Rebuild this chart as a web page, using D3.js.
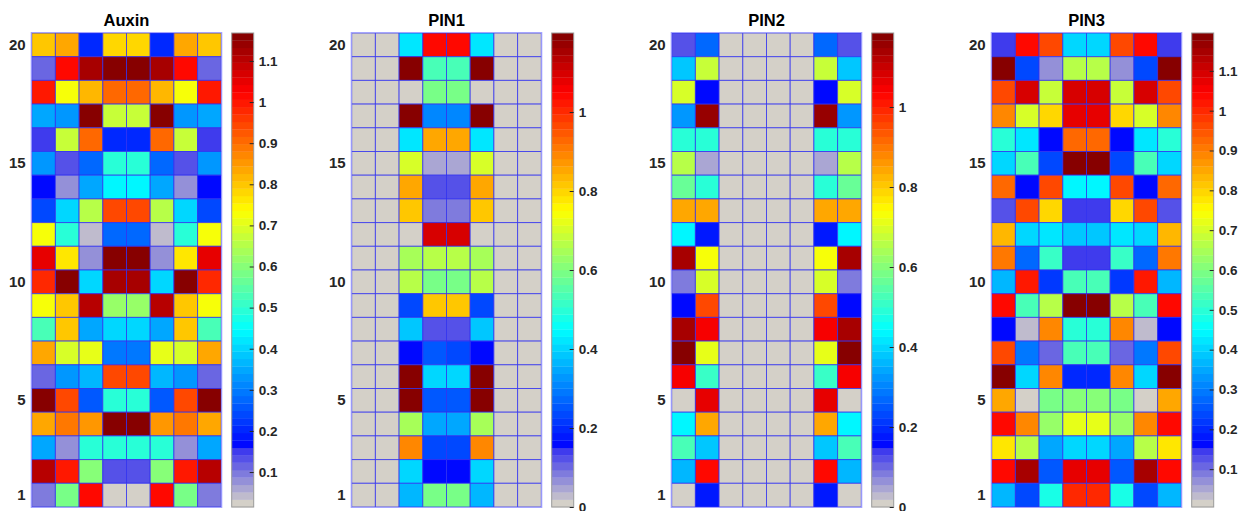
<!DOCTYPE html>
<html>
<head>
<meta charset="utf-8">
<script src="https://cdn.jsdelivr.net/npm/d3@7"></script>
<style>
body { margin: 0; background: #fff; }
text { font-family: Arial, "Liberation Sans", sans-serif; font-weight: bold; }
</style>
</head>
<body>
<div id="chart"></div>
<script>
// panel titles and row tick labels
var titles = ["Auxin", "PIN1", "PIN2", "PIN3"];
var rowTicks = [1, 5, 10, 15, 20];
var columns = [1, 2, 3, 4, 5, 6, 7, 8];
var rows = d3.range(1, 21);

// each matrix is listed from row 20 (top) down to row 1 (bottom)
var auxin = [
    [0.80, 0.83, 0.21, 0.78, 0.78, 0.21, 0.83, 0.80],
    [0.11, 1.02, 1.12, 1.168, 1.168, 1.12, 1.02, 0.11],
    [1.00, 0.735, 0.81, 0.90, 0.90, 0.81, 0.735, 1.00],
    [0.35, 0.325, 1.16, 0.67, 0.67, 1.16, 0.325, 0.35],
    [0.15, 0.68, 0.90, 0.21, 0.21, 0.90, 0.68, 0.15],
    [0.325, 0.13, 0.28, 0.49, 0.49, 0.28, 0.13, 0.325],
    [0.165, 0.07, 0.34, 0.43, 0.43, 0.34, 0.07, 0.165],
    [0.245, 0.40, 0.65, 0.94, 0.94, 0.65, 0.40, 0.245],
    [0.72, 0.50, 0.05, 0.28, 0.28, 0.05, 0.50, 0.72],
    [1.05, 0.765, 0.07, 1.168, 1.168, 0.07, 0.765, 1.05],
    [0.98, 1.155, 0.41, 1.12, 1.12, 0.41, 1.155, 0.98],
    [0.735, 0.80, 1.11, 0.615, 0.615, 1.11, 0.80, 0.735],
    [0.535, 0.805, 0.35, 0.395, 0.395, 0.35, 0.805, 0.535],
    [0.83, 0.695, 0.71, 0.29, 0.29, 0.71, 0.695, 0.83],
    [0.11, 0.325, 0.36, 0.94, 0.94, 0.36, 0.325, 0.11],
    [1.155, 0.95, 0.26, 0.49, 0.49, 0.26, 0.95, 1.155],
    [0.83, 0.88, 0.855, 1.155, 1.155, 0.855, 0.88, 0.83],
    [0.35, 0.07, 0.49, 0.49, 0.49, 0.49, 0.07, 0.35],
    [1.11, 1.00, 0.60, 0.13, 0.13, 0.60, 1.00, 1.11],
    [0.09, 0.59, 1.02, 0.015, 0.015, 1.02, 0.59, 0.09]
];

var pin1 = [
    [0, 0, 0.43, 1.04, 1.04, 0.43, 0, 0],
    [0, 0, 1.19, 0.53, 0.53, 1.19, 0, 0],
    [0, 0, 0, 0.59, 0.59, 0, 0, 0],
    [0, 0, 1.19, 0.30, 0.30, 1.19, 0, 0],
    [0, 0, 0.43, 0.85, 0.85, 0.43, 0, 0],
    [0, 0, 0.70, 0.04, 0.04, 0.70, 0, 0],
    [0, 0, 0.85, 0.12, 0.12, 0.85, 0, 0],
    [0, 0, 0.82, 0.08, 0.08, 0.82, 0, 0],
    [0, 0, 0, 1.09, 1.09, 0, 0, 0],
    [0, 0, 0.65, 0.67, 0.67, 0.65, 0, 0],
    [0, 0, 0.67, 0.59, 0.59, 0.67, 0, 0],
    [0, 0, 0.24, 0.81, 0.81, 0.24, 0, 0],
    [0, 0, 0.38, 0.12, 0.12, 0.38, 0, 0],
    [0, 0, 0.16, 0.26, 0.24, 0.16, 0, 0],
    [0, 0, 1.20, 0.40, 0.40, 1.20, 0, 0],
    [0, 0, 1.19, 0.26, 0.26, 1.19, 0, 0],
    [0, 0, 0.64, 0.34, 0.34, 0.64, 0, 0],
    [0, 0, 0.89, 0.23, 0.23, 0.89, 0, 0],
    [0, 0, 0.40, 0.16, 0.16, 0.40, 0, 0],
    [0, 0, 0.37, 0.59, 0.59, 0.37, 0, 0]
];

var pin2 = [
    [0.12, 0.27, 0, 0, 0, 0, 0.27, 0.12],
    [0.38, 0.68, 0, 0, 0, 0, 0.68, 0.38],
    [0.69, 0.15, 0, 0, 0, 0, 0.15, 0.69],
    [0.32, 1.16, 0, 0, 0, 0, 1.16, 0.32],
    [0.49, 0.49, 0, 0, 0, 0, 0.49, 0.49],
    [0.65, 0.04, 0, 0, 0, 0, 0.04, 0.65],
    [0.56, 0.49, 0, 0, 0, 0, 0.49, 0.56],
    [0.84, 0.84, 0, 0, 0, 0, 0.84, 0.84],
    [0.44, 0.17, 0, 0, 0, 0, 0.17, 0.44],
    [1.14, 0.74, 0, 0, 0, 0, 0.74, 1.14],
    [0.08, 0.69, 0, 0, 0, 0, 0.69, 0.08],
    [0.15, 0.95, 0, 0, 0, 0, 0.95, 0.15],
    [1.14, 1.04, 0, 0, 0, 0, 1.04, 1.14],
    [1.185, 0.72, 0, 0, 0, 0, 0.72, 1.185],
    [1.04, 0.50, 0, 0, 0, 0, 0.50, 1.04],
    [0, 1.07, 0, 0, 0, 0, 1.07, 0],
    [0.44, 0.84, 0, 0, 0, 0, 0.84, 0.44],
    [0.53, 0.38, 0, 0, 0, 0, 0.38, 0.53],
    [0.37, 1.02, 0, 0, 0, 0, 1.02, 0.37],
    [0, 0.17, 0, 0, 0, 0, 0.17, 0]
];

var pin3 = [
    [0.14, 1.03, 0.96, 0.41, 0.41, 0.96, 1.03, 0.14],
    [1.18, 0.23, 0.065, 0.66, 0.66, 0.065, 0.23, 1.18],
    [0.96, 1.10, 0.68, 1.09, 1.09, 0.68, 1.10, 0.96],
    [0.89, 0.70, 0.79, 1.08, 1.08, 0.79, 0.70, 0.89],
    [0.49, 0.43, 0.16, 0.93, 0.93, 0.16, 0.43, 0.49],
    [0.40, 0.53, 0.24, 1.195, 1.195, 0.24, 0.53, 0.40],
    [0.92, 0.16, 0.97, 0.45, 0.45, 0.97, 0.16, 0.92],
    [0.125, 0.96, 0.80, 0.15, 0.15, 0.80, 0.96, 0.125],
    [0.83, 0.41, 0.43, 0.39, 0.39, 0.43, 0.41, 0.83],
    [0.90, 0.28, 0.52, 0.15, 0.15, 0.52, 0.28, 0.90],
    [0.36, 1.02, 0.21, 0.54, 0.54, 0.21, 1.02, 0.36],
    [1.03, 0.54, 0.67, 1.195, 1.195, 0.67, 0.54, 1.03],
    [0.17, 0.04, 0.89, 0.50, 0.50, 0.89, 0.04, 0.17],
    [0.96, 0.29, 0.105, 0.54, 0.54, 0.105, 0.29, 0.96],
    [1.195, 0.41, 0.89, 0.195, 0.195, 0.89, 0.41, 1.195],
    [0.85, 0.005, 0.59, 0.61, 0.61, 0.59, 0.005, 0.85],
    [1.045, 0.89, 0.635, 0.73, 0.73, 0.635, 0.89, 1.045],
    [0.77, 0.66, 0.34, 0.41, 0.41, 0.34, 0.66, 0.77],
    [1.03, 1.14, 0.255, 1.08, 1.08, 0.255, 1.14, 1.03],
    [0.36, 0.23, 0.48, 1.00, 1.00, 0.48, 0.23, 0.36]
];

var matrices = [auxin, pin1, pin2, pin3];

// colour limits and colorbar ticks of each panel
var colorMin = [0.015, 0, 0, 0.005];
var colorMax = [1.168, 1.2, 1.185, 1.195];
var barTicks = [
    [0.1, 0.2, 0.3, 0.4, 0.5, 0.6, 0.7, 0.8, 0.9, 1, 1.1],
    [0, 0.2, 0.4, 0.6, 0.8, 1],
    [0, 0.2, 0.4, 0.6, 0.8, 1],
    [0.1, 0.2, 0.3, 0.4, 0.5, 0.6, 0.7, 0.8, 0.9, 1, 1.1]
];

// 64 level colormap: jet, with the dark blue end swapped for grey -> blue
function clamp(v) { return Math.max(0, Math.min(1, v)); }
var colormap = d3.range(64).map(function(i) {
    if (i < 8) return d3.interpolateRgb("#d4d0c8", "#2a26f2")(i / 8);
    var t = (i + 0.5) / 64;
    var r = clamp(1.5 - Math.abs(4 * t - 3)),
        g = clamp(1.5 - Math.abs(4 * t - 2)),
        b = clamp(1.5 - Math.abs(4 * t - 1));
    return d3.rgb(r * 255, g * 255, b * 255).toString();
});

var width = 1251, height = 511;
var panelLeft = 31.7, panelStep = 320, marginTop = 33;
var gridW = 189.6, gridH = 474;
var barGap = 200, barW = 22;

var svg = d3.select("#chart").append("svg")
    .attr("width", width)
    .attr("height", height);

matrices.forEach(function(m, p) {
    var g = svg.append("g")
        .attr("transform", "translate(" + (panelLeft + p * panelStep) + "," + marginTop + ")");

    var x = d3.scaleBand().domain(columns).range([0, gridW]);
    var y = d3.scaleBand().domain(rows).range([gridH, 0]);
    var color = d3.scaleQuantize().domain([colorMin[p], colorMax[p]]).range(colormap);

    var cells = [];
    m.forEach(function(row, i) {
        row.forEach(function(v, j) {
            cells.push({row: 20 - i, col: j + 1, value: v});
        });
    });

    g.selectAll("rect.cell")
        .data(cells)
        .enter().append("rect")
        .attr("class", "cell")
        .attr("x", function(d) { return x(d.col); })
        .attr("y", function(d) { return y(d.row); })
        .attr("width", x.bandwidth())
        .attr("height", y.bandwidth())
        .attr("fill", function(d) { return color(d.value); })
        .attr("stroke", "#3030f0")
        .attr("stroke-opacity", 0.75)
        .attr("stroke-width", 1);

    // axes box
    g.append("rect")
        .attr("x", -0.5).attr("y", -0.5)
        .attr("width", gridW + 1).attr("height", gridH + 1)
        .attr("fill", "none")
        .attr("stroke", "#a4a4ff")
        .attr("stroke-width", 1);

    var yAxis = g.append("g")
        .call(d3.axisLeft(y).tickValues(rowTicks).tickSize(0).tickPadding(6));
    yAxis.select(".domain").remove();
    yAxis.selectAll("text").attr("font-size", 15).attr("fill", "#262626");

    g.append("text")
        .attr("x", gridW / 2)
        .attr("y", -7)
        .attr("text-anchor", "middle")
        .attr("font-size", 16.5)
        .attr("fill", "#000")
        .text(titles[p]);

    // colorbar
    var cb = g.append("g").attr("transform", "translate(" + barGap + ",0)");
    var cy = d3.scaleLinear().domain([colorMin[p], colorMax[p]]).range([gridH, 0]);
    var step = (colorMax[p] - colorMin[p]) / 64;
    cb.selectAll("rect.level")
        .data(colormap)
        .enter().append("rect")
        .attr("class", "level")
        .attr("x", 0)
        .attr("y", function(d, i) { return cy(colorMin[p] + (i + 1) * step); })
        .attr("width", barW)
        .attr("height", function(d, i) { return cy(colorMin[p] + i * step) - cy(colorMin[p] + (i + 1) * step) + 0.3; })
        .attr("fill", function(d) { return d; });

    cb.append("rect")
        .attr("width", barW).attr("height", gridH)
        .attr("fill", "none")
        .attr("stroke", "#9a9a9a")
        .attr("stroke-width", 1);

    var cAxis = cb.append("g")
        .attr("transform", "translate(" + barW + ",0)")
        .call(d3.axisRight(cy).tickValues(barTicks[p]).tickSize(-4).tickPadding(5)
            .tickFormat(function(d) { return String(d); }));
    cAxis.select(".domain").remove();
    cAxis.selectAll("line").attr("stroke", "#262626");
    cAxis.selectAll("text").attr("font-size", 13.5).attr("fill", "#262626");
});
</script>
</body>
</html>
